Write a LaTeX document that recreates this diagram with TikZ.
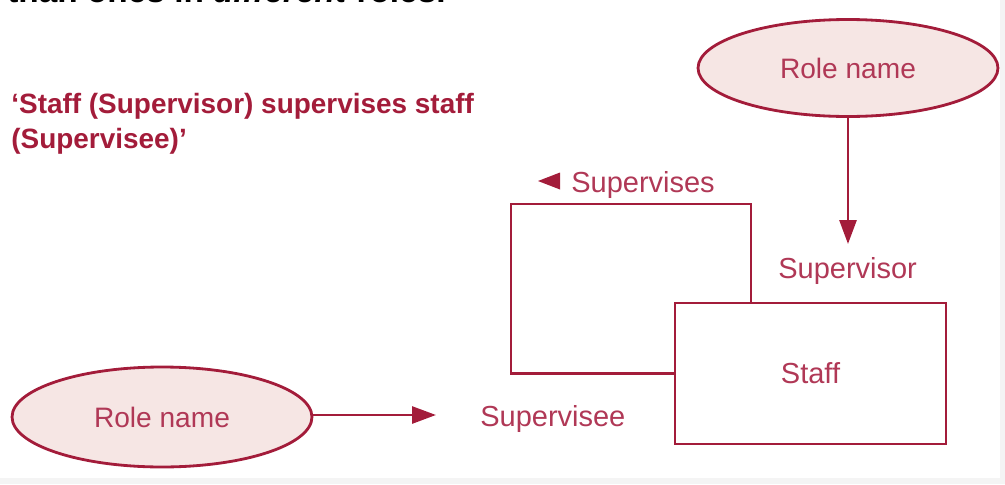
\documentclass[tikz,border=0pt]{standalone}
\usepackage{fontspec}
\setmainfont{Liberation Sans}
\usepackage{xcolor}
\definecolor{crimson}{RGB}{163,28,58}
\definecolor{rosetext}{RGB}{176,56,86}
\definecolor{blush}{RGB}{246,230,228}
\definecolor{edgegrey}{RGB}{244,244,244}
\usetikzlibrary{positioning,arrows.meta,shapes.geometric}

\begin{document}
\begin{tikzpicture}[x=0.02cm,y=-0.02cm,
	rolename/.style={ellipse,draw=crimson,line width=1.6pt,fill=blush,inner sep=0pt,minimum width=6cm,text=rosetext,font=\fontsize{16}{19}\selectfont},
	entity/.style={rectangle,draw=crimson,line width=1.6pt,minimum width=5.42cm,minimum height=2.82cm,text=rosetext,font=\fontsize{16.5}{20}\selectfont},
	rolelabel/.style={text=rosetext,font=\fontsize{16.5}{20}\selectfont,inner sep=0pt},
	link/.style={draw=crimson,line width=1.6pt},
	roleto/.style={link,-{Triangle[length=0.48cm,width=0.34cm]}}]
	\useasboundingbox (0,0) rectangle (1005,484);
	% page edges
	\fill[edgegrey] (1000,0) rectangle (1005,484);
	\fill[edgegrey] (0,478) rectangle (1005,484);
	
	% heading cut off by the page
	\begin{scope}
		\clip (0,0) rectangle (1005,40);
		\node[anchor=base west,inner sep=0pt,font=\fontsize{19}{23}\selectfont\bfseries] (heading) at (7,2) {than ones in \textit{different} roles.};
	\end{scope}
	
	% quotation
	\node[anchor=base west,inner sep=0pt,align=left,text=crimson,font=\fontsize{15.9}{19.8}\selectfont\bfseries] (quote) at (11,148) {‘Staff (Supervisor) supervises staff\\(Supervisee)’};
	
	% entity and role names
	\node[entity] (staff) at (810.5,373.5) {Staff};
	\node[rolename,minimum height=1.94cm] (roletop) at (848,68) {Role name};
	\node[rolename,minimum height=2cm] (roleleft) at (162,417) {Role name};
	
	% labels
	\node[rolelabel,anchor=base west] (supervisor) at (778,278) {Supervisor};
	\node[rolelabel,anchor=base west] (supervisee) at (480,426) {Supervisee};
	\node[rolelabel,anchor=base west] (supervises) at (571,192) {Supervises};
	\fill[crimson] (538,181) -- (560,172.5) -- (560,189.5) -- cycle;
	
	% recursive relationship
	\coordinate (loopNE) at (751,204);
	\coordinate (loopNW) at (511,204);
	\draw[link] (staff.north -| loopNE) -- (loopNE) -- (loopNW) |- (staff.west);
	
	% role arrows
	\coordinate (supervisortip) at (848,244);
	\coordinate (superviseetip) at (436,415);
	\draw[roleto] (roletop.south) -- (supervisortip);
	\draw[roleto] (roleleft.east |- superviseetip) -- (superviseetip);
\end{tikzpicture}
\end{document}
